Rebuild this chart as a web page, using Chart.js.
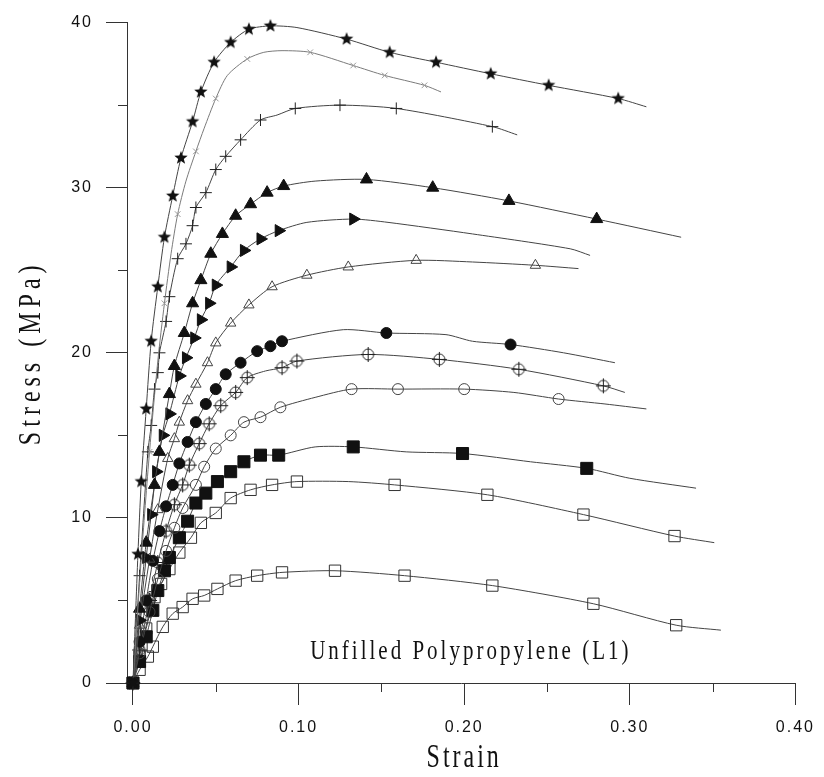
<!DOCTYPE html>
<html>
<head>
<meta charset="utf-8">
<title>Unfilled Polypropylene (L1)</title>
<script src="https://cdn.jsdelivr.net/npm/chart.js@4.4.0/dist/chart.umd.min.js"></script>
<style>
  html, body { margin: 0; padding: 0; background: #fff; }
  #wrap { width: 824px; height: 777px; }
</style>
</head>
<body>
<div id="wrap"><canvas id="chart"></canvas></div>
<script>
// Stress-strain curves, one pair of arrays per specimen.
// *Marks lists the indices that carry a plot symbol; the rest only shape the line.
const starStrain = [0, 0.003, 0.005, 0.008, 0.011, 0.015, 0.019, 0.024, 0.029, 0.036, 0.041, 0.049, 0.059, 0.070, 0.083, 0.099, 0.129, 0.155, 0.183, 0.216, 0.251, 0.293, 0.310];
const starStress = [0, 7.8, 12.2, 16.6, 20.7, 24.0, 27.0, 29.5, 31.8, 34.0, 35.8, 37.6, 38.8, 39.6, 39.8, 39.7, 39.0, 38.2, 37.6, 36.9, 36.2, 35.4, 34.9];
const starMarks = [0, 1, 2, 3, 4, 5, 6, 7, 8, 9, 10, 11, 12, 13, 14, 16, 17, 18, 19, 20, 21];

const xStrain = [0, 0.005, 0.010, 0.015, 0.019, 0.023, 0.027, 0.032, 0.038, 0.043, 0.050, 0.057, 0.069, 0.079, 0.090, 0.107, 0.133, 0.152, 0.176, 0.186];
const xStress = [0, 7.5, 14.0, 19.5, 23.0, 26.0, 28.4, 30.4, 32.2, 33.6, 35.4, 36.8, 37.8, 38.2, 38.3, 38.2, 37.4, 36.8, 36.2, 35.8];
const xMarks = [2, 4, 6, 8, 10, 12, 15, 16, 17, 18];

const plusStrain = [0, 0.004, 0.009, 0.011, 0.013, 0.015, 0.016, 0.020, 0.022, 0.027, 0.032, 0.036, 0.038, 0.044, 0.050, 0.056, 0.065, 0.077, 0.087, 0.098, 0.125, 0.159, 0.217, 0.232];
const plusStress = [0, 6.5, 14.0, 15.6, 17.8, 18.8, 20.0, 21.9, 23.4, 25.7, 26.6, 27.7, 28.8, 29.7, 31.1, 31.9, 32.9, 34.1, 34.4, 34.8, 35.0, 34.8, 33.7, 33.2];
const plusMarks = [0, 1, 2, 3, 4, 5, 6, 7, 8, 9, 10, 11, 12, 13, 14, 15, 16, 17, 19, 20, 21, 22];

const triUpStrain = [0, 0.004, 0.008, 0.013, 0.016, 0.022, 0.025, 0.031, 0.036, 0.041, 0.047, 0.054, 0.062, 0.071, 0.081, 0.091, 0.110, 0.141, 0.181, 0.227, 0.280, 0.331];
const triUpStress = [0, 4.5, 8.5, 12.0, 14.0, 17.5, 19.2, 21.2, 23.0, 24.4, 26.0, 27.2, 28.3, 29.0, 29.7, 30.1, 30.4, 30.5, 30.0, 29.2, 28.1, 27.0];
const triUpMarks = [0, 1, 2, 3, 4, 5, 6, 7, 8, 9, 10, 11, 12, 13, 14, 15, 17, 18, 19, 20];

const triRightStrain = [0, 0.004, 0.008, 0.011, 0.014, 0.018, 0.022, 0.028, 0.032, 0.037, 0.041, 0.046, 0.050, 0.059, 0.067, 0.077, 0.088, 0.105, 0.133, 0.154, 0.205, 0.264, 0.276];
const triRightStress = [0, 3.8, 7.6, 10.2, 12.8, 15.0, 16.3, 18.6, 19.7, 20.9, 22.0, 23.0, 24.1, 25.2, 26.2, 26.9, 27.4, 27.9, 28.1, 27.9, 27.2, 26.3, 25.9];
const triRightMarks = [0, 1, 2, 3, 4, 5, 6, 7, 8, 9, 10, 11, 12, 13, 14, 15, 16, 18];

const triOpenStrain = [0, 0.004, 0.010, 0.015, 0.021, 0.025, 0.028, 0.033, 0.038, 0.045, 0.050, 0.059, 0.070, 0.084, 0.105, 0.130, 0.171, 0.205, 0.243, 0.269];
const triOpenStress = [0, 3.5, 7.5, 10.5, 13.6, 14.8, 15.8, 17.1, 18.1, 19.4, 20.6, 21.8, 22.9, 24.0, 24.7, 25.2, 25.6, 25.5, 25.3, 25.1];
const triOpenMarks = [0, 1, 2, 3, 4, 5, 6, 7, 8, 9, 10, 11, 12, 13, 14, 15, 16, 18];

const dotStrain = [0, 0.004, 0.008, 0.012, 0.016, 0.020, 0.024, 0.028, 0.033, 0.038, 0.044, 0.050, 0.056, 0.065, 0.075, 0.083, 0.090, 0.127, 0.153, 0.189, 0.205, 0.228, 0.260, 0.291];
const dotStress = [0, 2.5, 5.0, 7.4, 9.2, 10.7, 12.0, 13.3, 14.6, 15.8, 16.9, 17.8, 18.7, 19.4, 20.1, 20.4, 20.7, 21.4, 21.2, 21.1, 20.7, 20.5, 20.0, 19.4];
const dotMarks = [0, 1, 2, 3, 4, 5, 6, 7, 8, 9, 10, 11, 12, 13, 14, 15, 16, 18, 21];

const ringPlusStrain = [0, 0.004, 0.010, 0.015, 0.020, 0.025, 0.030, 0.034, 0.040, 0.046, 0.053, 0.062, 0.069, 0.080, 0.090, 0.099, 0.142, 0.185, 0.233, 0.284, 0.297];
const ringPlusStress = [0, 2.0, 5.0, 7.3, 9.2, 10.8, 12.0, 13.2, 14.5, 15.7, 16.8, 17.6, 18.5, 18.9, 19.1, 19.5, 19.9, 19.6, 19.0, 18.0, 17.6];
const ringPlusMarks = [0, 1, 2, 3, 4, 5, 6, 7, 8, 9, 10, 11, 12, 14, 15, 16, 17, 18, 19];

const ringStrain = [0, 0.004, 0.010, 0.015, 0.020, 0.025, 0.030, 0.038, 0.043, 0.050, 0.059, 0.067, 0.077, 0.089, 0.110, 0.132, 0.160, 0.200, 0.230, 0.257, 0.285, 0.310];
const ringStress = [0, 1.8, 4.3, 6.3, 8.0, 9.4, 10.6, 12.0, 13.1, 14.2, 15.0, 15.8, 16.1, 16.7, 17.3, 17.8, 17.8, 17.8, 17.6, 17.2, 16.9, 16.6];
const ringMarks = [0, 1, 2, 3, 4, 5, 6, 7, 8, 9, 10, 11, 12, 13, 15, 16, 17, 19];

const squareStrain = [0, 0.004, 0.008, 0.012, 0.015, 0.019, 0.022, 0.028, 0.033, 0.038, 0.044, 0.051, 0.059, 0.067, 0.077, 0.088, 0.110, 0.133, 0.165, 0.199, 0.240, 0.274, 0.300, 0.340];
const squareStress = [0, 1.3, 2.8, 4.4, 5.6, 6.8, 7.6, 8.8, 9.8, 10.9, 11.5, 12.2, 12.8, 13.4, 13.8, 13.8, 14.3, 14.3, 14.0, 13.9, 13.4, 13.0, 12.4, 11.8];
const squareMarks = [0, 1, 2, 3, 4, 5, 6, 7, 8, 9, 10, 11, 12, 13, 14, 15, 17, 19, 21];

const boxStrain = [0, 0.004, 0.008, 0.013, 0.017, 0.022, 0.028, 0.035, 0.041, 0.050, 0.059, 0.071, 0.084, 0.099, 0.130, 0.158, 0.214, 0.272, 0.327, 0.351];
const boxStress = [0, 1.6, 3.3, 5.2, 6.0, 6.9, 7.9, 8.8, 9.7, 10.3, 11.2, 11.7, 12.0, 12.2, 12.2, 12.0, 11.4, 10.2, 8.9, 8.5];
const boxMarks = [0, 1, 2, 3, 4, 5, 6, 7, 8, 9, 10, 11, 12, 13, 15, 16, 17, 18];

const boxLowStrain = [0, 0.004, 0.009, 0.012, 0.018, 0.024, 0.030, 0.036, 0.043, 0.051, 0.062, 0.075, 0.090, 0.122, 0.164, 0.217, 0.278, 0.328, 0.355];
const boxLowStress = [0, 0.8, 1.6, 2.2, 3.4, 4.2, 4.6, 5.1, 5.3, 5.7, 6.2, 6.5, 6.7, 6.8, 6.5, 5.9, 4.8, 3.5, 3.2];
const boxLowMarks = [0, 1, 2, 3, 4, 5, 6, 7, 8, 9, 10, 11, 12, 13, 14, 15, 16, 17];

const xTicks = [0, 0.1, 0.2, 0.3, 0.4];
const xMinor = [0.05, 0.15, 0.25, 0.35];
const yTicks = [0, 10, 20, 30, 40];
const yMinor = [5, 15, 25, 35];

const xTitle = "Strain";
const yTitle = "Stress (MPa)";
const note = "Unfilled Polypropylene (L1)";

const ink = "#111";
const lineInk = "#444";
const axisInk = "#333";

// filled five-point star used as a point image
function starImage(r) {
    const c = document.createElement("canvas");
    const s = Math.ceil(r * 2 + 2);
    c.width = s; c.height = s;
    const g = c.getContext("2d");
    g.translate(s / 2, s / 2);
    g.beginPath();
    for (let i = 0; i < 10; i++) {
        const rad = i % 2 === 0 ? r : r * 0.42;
        const a = -Math.PI / 2 + i * Math.PI / 5;
        g.lineTo(Math.cos(a) * rad, Math.sin(a) * rad);
    }
    g.closePath();
    g.fillStyle = ink;
    g.fill();
    return c;
}

// open circle with a cross through it
function ringPlusImage(r) {
    const c = document.createElement("canvas");
    const s = Math.ceil(r * 2 + 6);
    c.width = s; c.height = s;
    const g = c.getContext("2d");
    g.translate(s / 2, s / 2);
    g.strokeStyle = "#222";
    g.lineWidth = 1;
    g.beginPath();
    g.arc(0, 0, r, 0, Math.PI * 2);
    g.moveTo(-r - 2, 0); g.lineTo(r + 2, 0);
    g.moveTo(0, -r - 2); g.lineTo(0, r + 2);
    g.stroke();
    return c;
}

function curve(strain, stress, marks, look) {
    return {
        data: strain.map((x, i) => ({ x, y: stress[i] })),
        showLine: true,
        borderColor: look.line || lineInk,
        borderWidth: 1,
        tension: 0.25,
        pointStyle: look.style,
        pointRotation: look.rotation || 0,
        pointRadius: (ctx) => marks.includes(ctx.dataIndex) ? look.radius : 0,
        pointBackgroundColor: look.fill,
        pointBorderColor: look.stroke || ink,
        pointBorderWidth: look.width || 1,
        clip: false
    };
}

const datasets = [
    curve(starStrain, starStress, starMarks, { style: starImage(7), radius: 7, fill: ink }),
    curve(xStrain, xStress, xMarks, { style: "crossRot", radius: 4, fill: "#999", stroke: "#999", line: "#7a7a7a" }),
    curve(plusStrain, plusStress, plusMarks, { style: "cross", radius: 6, fill: ink, stroke: "#222" }),
    curve(triUpStrain, triUpStress, triUpMarks, { style: "triangle", radius: 7, fill: ink }),
    curve(triRightStrain, triRightStress, triRightMarks, { style: "triangle", rotation: 90, radius: 7, fill: ink }),
    curve(triOpenStrain, triOpenStress, triOpenMarks, { style: "triangle", radius: 6, fill: "rgba(255,255,255,0)", stroke: "#444" }),
    curve(dotStrain, dotStress, dotMarks, { style: "circle", radius: 5.5, fill: ink }),
    curve(ringPlusStrain, ringPlusStress, ringPlusMarks, { style: ringPlusImage(5.5), radius: 6, fill: ink }),
    curve(ringStrain, ringStress, ringMarks, { style: "circle", radius: 5.5, fill: "rgba(255,255,255,0)", stroke: "#444" }),
    curve(squareStrain, squareStress, squareMarks, { style: "rect", radius: 8.5, fill: ink }),
    curve(boxStrain, boxStress, boxMarks, { style: "rect", radius: 8, fill: "rgba(255,255,255,0)", stroke: "#333" }),
    curve(boxLowStrain, boxLowStress, boxLowMarks, { style: "rect", radius: 8, fill: "rgba(255,255,255,0)", stroke: "#333" })
];

// spaced, slightly tall lettering for the titles and the note
function letter(ctx, text, x, y, o) {
    ctx.save();
    ctx.translate(x, y);
    if (o.rotate) ctx.rotate(o.rotate);
    ctx.scale(1, o.stretch);
    ctx.font = o.font;
    ctx.letterSpacing = o.spacing + "px";
    ctx.fillStyle = ink;
    ctx.textAlign = o.align;
    ctx.textBaseline = "alphabetic";
    ctx.fillText(text, 0, 0);
    ctx.restore();
}

const extras = {
    id: "extras",
    beforeDraw(chart) {
        chart.ctx.letterSpacing = "2px";
    },
    afterDraw(chart) {
        const { ctx, scales: { x, y } } = chart;
        ctx.save();
        ctx.strokeStyle = axisInk;
        ctx.lineWidth = 1;
        ctx.beginPath();
        xMinor.forEach((v) => {
            const px = Math.round(x.getPixelForValue(v)) + 0.5;
            ctx.moveTo(px, y.bottom);
            ctx.lineTo(px, y.bottom + 9);
        });
        yMinor.forEach((v) => {
            const py = Math.round(y.getPixelForValue(v)) + 0.5;
            ctx.moveTo(x.left, py);
            ctx.lineTo(x.left - 9, py);
        });
        ctx.stroke();
        ctx.restore();

        letter(ctx, xTitle, x.getPixelForValue(0.2), 767,
            { font: "24px 'Liberation Serif'", spacing: 3, stretch: 1.4, align: "center" });
        letter(ctx, yTitle, 40, y.getPixelForValue(20),
            { font: "24px 'Liberation Serif'", spacing: 5, stretch: 1.35, align: "center", rotate: -Math.PI / 2 });
        letter(ctx, note, x.getPixelForValue(0.107), y.getPixelForValue(1.45),
            { font: "21px 'Liberation Serif'", spacing: 3, stretch: 1.35, align: "left" });
    }
};

new Chart(document.getElementById("chart"), {
    type: "scatter",
    data: { datasets },
    plugins: [extras],
    options: {
        responsive: true,
        maintainAspectRatio: false,
        animation: false,
        events: [],
        layout: { padding: { left: 0, right: 14, top: 16, bottom: 0 } },
        plugins: { legend: { display: false }, tooltip: { enabled: false } },
        scales: {
            x: {
                type: "linear",
                min: -0.0036,
                max: 0.4,
                afterBuildTicks: (scale) => { scale.ticks = xTicks.map((v) => ({ value: v })); },
                afterFit: (scale) => { scale.height = 94; },
                grid: { drawOnChartArea: false, tickLength: 22, tickColor: axisInk, tickWidth: 1 },
                border: { display: true, color: axisInk, width: 1 },
                ticks: {
                    padding: 13,
                    color: ink,
                    font: { family: "'Liberation Sans'", size: 16 },
                    callback: (v) => Number(v).toFixed(2)
                }
            },
            y: {
                type: "linear",
                min: 0,
                max: 40,
                afterBuildTicks: (scale) => { scale.ticks = yTicks.map((v) => ({ value: v })); },
                afterFit: (scale) => { scale.width = 127; },
                grid: { drawOnChartArea: false, tickLength: 21, tickColor: axisInk, tickWidth: 1 },
                border: { display: true, color: axisInk, width: 1 },
                ticks: {
                    padding: 13,
                    color: ink,
                    font: { family: "'Liberation Sans'", size: 16 },
                    callback: (v) => String(v)
                }
            }
        }
    }
});
</script>
</body>
</html>
